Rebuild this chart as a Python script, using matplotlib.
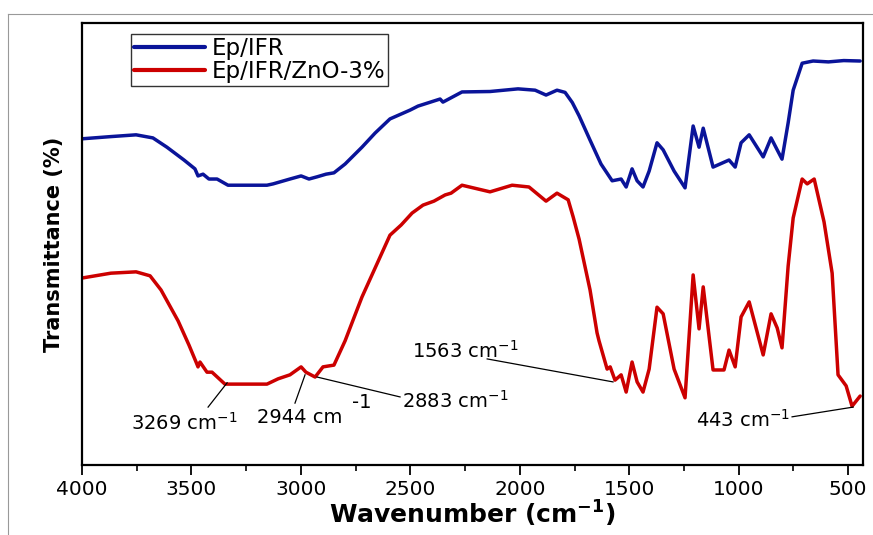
import matplotlib
matplotlib.use("Agg")
import matplotlib.pyplot as plt
from matplotlib.lines import Line2D
from matplotlib.ticker import MultipleLocator

plt.rcParams['font.family'] = ['DejaVu Sans']

# ---- data (wavenumber cm^-1, transmittance a.u.) ----
wn_blue = [4000, 3868, 3753, 3676, 3612, 3534, 3484, 3470, 3447, 3420, 3383, 3333,
           3155, 3127, 3050, 2999, 2963, 2926, 2885, 2849, 2798, 2721, 2661, 2593,
           2501, 2465, 2364, 2351, 2264, 2136, 2008, 1930, 1880, 1830, 1793, 1760,
           1729, 1679, 1629, 1578, 1537, 1514, 1487, 1464, 1437, 1409, 1373, 1345,
           1295, 1245, 1208, 1181, 1162, 1117, 1044, 1016, 989, 952, 888, 852, 824,
           802, 774, 751, 710, 660, 590, 520, 445]
t_blue = [73.8, 74.3, 74.7, 74.0, 71.9, 69.0, 67.0, 65.4, 65.8, 64.7, 64.7, 63.3,
          63.3, 63.6, 64.7, 65.4, 64.7, 65.2, 65.8, 66.1, 68.1, 71.9, 75.1, 78.3,
          80.3, 81.2, 82.8, 82.1, 84.4, 84.5, 85.1, 84.8, 83.7, 84.8, 84.3, 82.0,
          79.0, 73.5, 68.1, 64.3, 64.7, 62.9, 67.0, 64.3, 62.9, 66.5, 72.9, 71.3,
          66.5, 62.7, 76.7, 71.9, 76.2, 67.4, 69.0, 67.4, 72.9, 74.7, 69.7, 74.0,
          71.3, 69.2, 77.4, 84.8, 90.9, 91.4, 91.2, 91.5, 91.4]

wn_red = [4000, 3868, 3753, 3689, 3639, 3561, 3511, 3479, 3470, 3461, 3429, 3406,
          3347, 3155, 3104, 3050, 2999, 2977, 2935, 2899, 2849, 2798, 2760, 2721,
          2657, 2593, 2542, 2492, 2442, 2392, 2341, 2314, 2264, 2136, 2035, 1958,
          1880, 1830, 1779, 1756, 1729, 1679, 1647, 1638, 1601, 1587, 1565, 1537,
          1514, 1487, 1464, 1437, 1409, 1373, 1345, 1295, 1245, 1208, 1181, 1162,
          1117, 1067, 1044, 1016, 989, 952, 888, 852, 824, 802, 774, 751, 710, 687,
          655, 610, 573, 546, 509, 482, 445]
t_red = [42.3, 43.4, 43.7, 42.8, 39.6, 32.6, 27.1, 23.3, 22.2, 23.3, 21.0, 21.0,
         18.3, 18.3, 19.5, 20.4, 22.2, 21.0, 19.9, 22.2, 22.6, 28.1, 33.0, 38.0,
         45.0, 52.0, 54.3, 57.0, 58.8, 59.7, 61.1, 61.5, 63.3, 61.8, 63.3, 62.9,
         59.7, 61.5, 60.0, 56.1, 51.1, 39.6, 29.9, 28.1, 21.7, 22.2, 19.2, 20.4,
         16.5, 23.3, 18.8, 16.5, 21.7, 35.7, 34.2, 21.7, 15.2, 43.0, 30.8, 40.3,
         21.5, 21.5, 26.0, 22.2, 33.5, 36.9, 24.9, 34.2, 31.0, 26.5, 45.0, 55.9,
         64.7, 63.6, 64.7, 55.0, 43.4, 20.4, 17.9, 13.3, 15.6]

series_labels = ["Ep/IFR", "Ep/IFR/ZnO-3%"]
series_colors = ["#0a1499", "#cc0000"]

x_ticks = [4000, 3500, 3000, 2500, 2000, 1500, 1000, 500]
x_label = "Wavenumber (cm$^{\\mathbf{-1}}$)"
y_label = "Transmittance (%)"

# annotations: text, text position (wn, T), alignment, line start, line end
ann_texts = ["3269 cm$^{-1}$", "2944 cm", "2883 cm$^{-1}$", "1563 cm$^{-1}$", "443 cm$^{-1}$"]
ann_text_xy = [(3534, 7.9), (3004, 9.5), (2538, 12.9), (2250, 24.2), (980, 8.6)]
ann_ha = ["center", "center", "left", "center", "center"]
ann_line_from = [(3424, 13.1), (3027, 14.0), (2547, 15.4), (2149, 24.0), (756, 10.9)]
ann_line_to = [(3337, 18.6), (2981, 20.4), (2926, 19.9), (1574, 18.8), (477, 13.1)]
extra_sup_text = "-1"
extra_sup_xy = (2721, 12.9)

# ---- figure ----
W, H = 873, 535
fig = plt.figure(figsize=(W / 100, H / 100), dpi=100)
ax = fig.add_axes([82 / W, (H - 465) / H, 781 / W, 442 / H])

ax.plot(wn_blue, t_blue, color=series_colors[0], lw=2.5, label=series_labels[0],
        solid_joinstyle='round', solid_capstyle='round')
ax.plot(wn_red, t_red, color=series_colors[1], lw=2.5, label=series_labels[1],
        solid_joinstyle='round', solid_capstyle='round')

ax.set_xlim(4000, 432)
ax.set_ylim(0, 100)
ax.set_xticks(x_ticks)
ax.xaxis.set_minor_locator(MultipleLocator(250))
ax.set_yticks([])
ax.tick_params(axis='x', which='major', direction='out', length=7, width=1.3,
               labelsize=14.5, pad=4, top=False)
ax.tick_params(axis='x', which='minor', direction='out', length=4, width=1.2, top=False)
for s in ax.spines.values():
    s.set_linewidth(1.6)

ax.set_xlabel(x_label, fontsize=18, fontweight='bold', labelpad=0)
ax.set_ylabel(y_label, fontsize=15, fontweight='bold', labelpad=13)

leg = ax.legend(loc='upper left', bbox_to_anchor=(0.0627, 0.975), borderaxespad=0,
                fontsize=16.5, frameon=True, fancybox=False, edgecolor='black',
                handlelength=3.1, handletextpad=0.3, labelspacing=0.0,
                borderpad=0.12)
leg.get_frame().set_linewidth(1.0)
for h in leg.get_lines():
    h.set_linewidth(3)

for txt, (tx, ty), ha, p0, p1 in zip(ann_texts, ann_text_xy, ann_ha, ann_line_from, ann_line_to):
    ax.text(tx, ty, txt, ha=ha, va='baseline', fontsize=14)
    ax.plot([p0[0], p1[0]], [p0[1], p1[1]], color='black', lw=0.9)
ax.text(extra_sup_xy[0], extra_sup_xy[1], extra_sup_text, ha='center', va='baseline', fontsize=14)

# faint outer border (left and top)
fig.add_artist(Line2D([8 / W, 8 / W], [0, 1 - 14 / H], transform=fig.transFigure,
                      color='#999999', lw=0.8))
fig.add_artist(Line2D([8 / W, 1], [1 - 14 / H, 1 - 14 / H], transform=fig.transFigure,
                      color='#999999', lw=0.8))

fig.savefig("out.png", dpi=100)
